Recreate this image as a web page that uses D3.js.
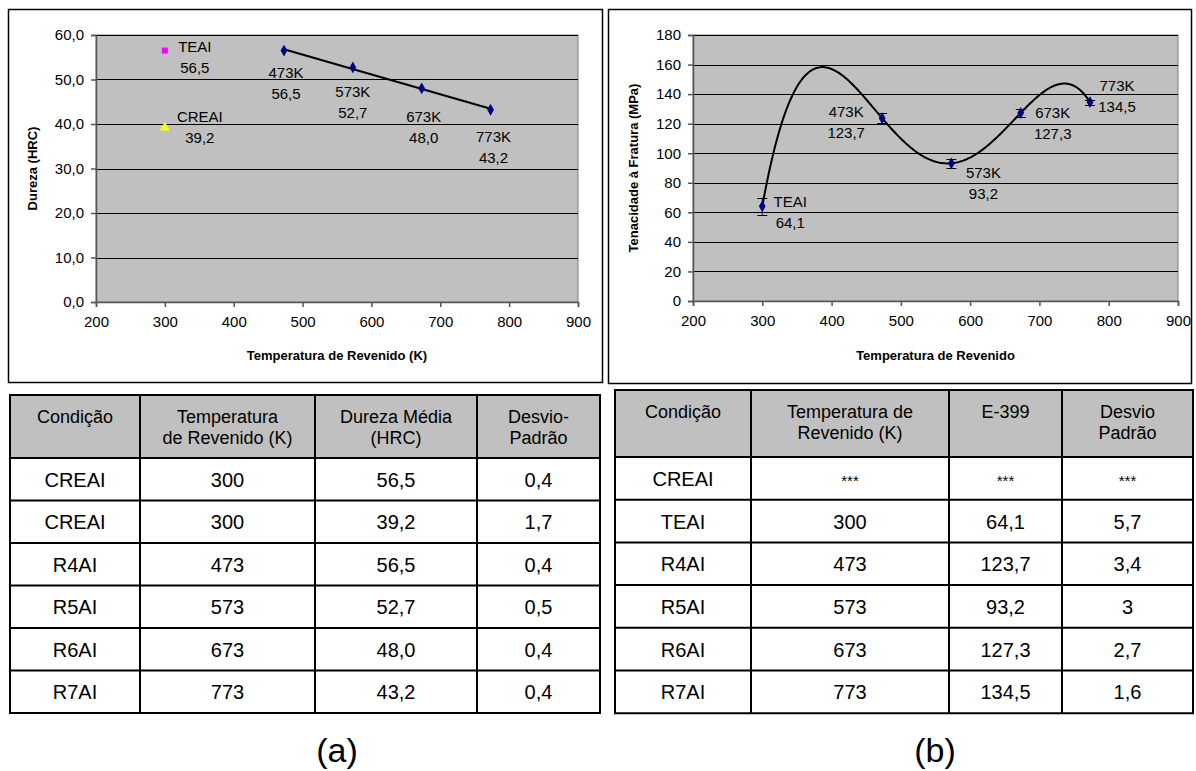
<!DOCTYPE html>
<html>
<head>
<meta charset="utf-8">
<script src="https://cdn.jsdelivr.net/npm/d3@7"></script>
<style>
  body { margin: 0; background: #fff; }
  svg text { font-family: "Liberation Sans", Arial, sans-serif; fill: #000; }
</style>
</head>
<body>
<svg id="fig" width="1196" height="771"></svg>
<script>
// ---- chart (a): dureza x temperatura
const hardRefNames = ['TEAI', 'CREAI']
const hardRefTemp = [300, 300]
const hardRefVal = [56.5, 39.2]
const hardNames = ['473K', '573K', '673K', '773K']
const hardTemp = [473, 573, 673, 773]
const hardVal = [56.5, 52.7, 48.0, 43.2]
const hardTicks = [0, 10, 20, 30, 40, 50, 60]

// ---- chart (b): tenacidade x temperatura
const toughNames = ['TEAI', '473K', '573K', '673K', '773K']
const toughTemp = [300, 473, 573, 673, 773]
const toughVal = [64.1, 123.7, 93.2, 127.3, 134.5]
const toughSd = [5.7, 3.4, 3, 2.7, 1.6]
const toughTicks = [0, 20, 40, 60, 80, 100, 120, 140, 160, 180]

const tempTicks = [200, 300, 400, 500, 600, 700, 800, 900]

// ---- tables
const headA = [['Condição'], ['Temperatura', 'de Revenido (K)'], ['Dureza Média', '(HRC)'], ['Desvio-', 'Padrão']]
const condA = ['CREAI', 'CREAI', 'R4AI', 'R5AI', 'R6AI', 'R7AI']
const tempA = [300, 300, 473, 573, 673, 773]
const durezaA = [56.5, 39.2, 56.5, 52.7, 48.0, 43.2]
const desvioA = [0.4, 1.7, 0.4, 0.5, 0.4, 0.4]

const headB = [['Condição'], ['Temperatura de', 'Revenido (K)'], ['E-399'], ['Desvio', 'Padrão']]
const condB = ['CREAI', 'TEAI', 'R4AI', 'R5AI', 'R6AI', 'R7AI']
const tempB = ['***', 300, 473, 573, 673, 773]
const e399B = ['***', 64.1, 123.7, 93.2, 127.3, 134.5]
const desvioB = ['***', 5.7, 3.4, 3, 2.7, 1.6]

const br = d3.formatLocale({ decimal: ',', thousands: '.', grouping: [3], currency: ['R$', ''] })
const f1 = br.format('.1f')
const fAuto = v => typeof v === 'number' ? String(v).replace('.', ',') : v

const svg = d3.select('#fig')
const NAVY = '#000080'

// frame + plot area + grid + axes for one chart
const panel = (o) => {
    svg.append('rect')
        .attr('x', o.frame[0] + 0.5).attr('y', o.frame[1] + 0.5)
        .attr('width', o.frame[2]).attr('height', o.frame[3])
        .attr('fill', '#fff').attr('stroke', '#000').attr('stroke-width', 1.5)

    let x = d3.scaleLinear().domain([200, 900]).range([o.left, o.right])
    let y = d3.scaleLinear().domain([0, o.ymax]).range([o.bottom, o.top])
    let g = svg.append('g')

    g.append('rect')
        .attr('x', o.left).attr('y', o.top)
        .attr('width', o.right - o.left).attr('height', o.bottom - o.top)
        .attr('fill', '#c0c0c0').attr('stroke', '#808080')

    g.selectAll('line.grid')
        .data(o.ticks.filter(t => t > 0))
        .join('line')
        .attr('class', 'grid')
        .attr('x1', o.left).attr('x2', o.right)
        .attr('y1', d => Math.round(y(d)) + 0.5).attr('y2', d => Math.round(y(d)) + 0.5)
        .attr('stroke', '#000')

    let ya = g.append('g')
        .attr('transform', `translate(${o.left},0)`)
        .call(d3.axisLeft(y).tickValues(o.ticks).tickSize(5).tickPadding(7).tickFormat(o.fmt))
    let xa = g.append('g')
        .attr('transform', `translate(0,${o.bottom})`)
        .call(d3.axisBottom(x).tickValues(tempTicks).tickSize(5).tickPadding(9).tickFormat(d3.format('d')))
    for (let a of [ya, xa]) {
        a.selectAll('path, line').attr('stroke', '#555').attr('stroke-width', 1.5)
        a.selectAll('text').attr('font-size', 15).attr('font-family', '"Liberation Sans", Arial, sans-serif')
    }

    g.append('text')
        .attr('transform', `translate(${o.ytitleX},${(o.top + o.bottom) / 2}) rotate(-90)`)
        .attr('text-anchor', 'middle').attr('dy', '0.35em')
        .attr('font-size', 13).attr('font-weight', 'bold')
        .text(o.ytitle)
    g.append('text')
        .attr('x', (o.left + o.right) / 2).attr('y', 355)
        .attr('text-anchor', 'middle').attr('dy', '0.35em')
        .attr('font-size', 13).attr('font-weight', 'bold')
        .text(o.xtitle)

    return { x, y, g }
}

// two-line data label, offset from its marker
const label = (g, px, py, off, l1, l2) => {
    let t = g.append('text')
        .attr('text-anchor', 'middle').attr('font-size', 15)
    t.append('tspan').attr('x', px + off[0]).attr('y', py + off[1]).attr('dy', '0.35em').text(l1)
    t.append('tspan').attr('x', px + off[0]).attr('y', py + off[1] + 21).attr('dy', '0.35em').text(l2)
}

// ---------- (a)
{
    let { x, y, g } = panel({
        frame: [8, 9, 594, 373], left: 96, right: 578, top: 35, bottom: 302,
        ymax: 60, ticks: hardTicks, fmt: f1, ytitleX: 32,
        ytitle: 'Dureza (HRC)', xtitle: 'Temperatura de Revenido (K)'
    })

    // linear trend through the tempered samples
    let mx = d3.mean(hardTemp), my = d3.mean(hardVal)
    let slope = d3.sum(hardTemp, (t, i) => (t - mx) * (hardVal[i] - my)) / d3.sum(hardTemp, t => (t - mx) ** 2)
    let trend = t => my + slope * (t - mx)
    let ends = d3.extent(hardTemp)
    g.append('path')
        .attr('d', d3.line()(ends.map(t => [x(t), y(trend(t))])))
        .attr('stroke', '#000').attr('stroke-width', 2).attr('fill', 'none')

    g.selectAll('path.pt')
        .data(hardTemp)
        .join('path')
        .attr('transform', (d, i) => `translate(${x(d)},${y(hardVal[i])})`)
        .attr('d', d3.symbol(d3.symbolDiamond, 40))
        .attr('fill', NAVY)

    let refShapes = [[d3.symbolSquare, 36, '#ff00ff'], [d3.symbolTriangle, 45, '#ffff00']]
    hardRefTemp.forEach((t, i) => {
        g.append('path')
            .attr('transform', `translate(${x(t)},${y(hardRefVal[i])})`)
            .attr('d', d3.symbol(refShapes[i][0], refShapes[i][1]))
            .attr('fill', refShapes[i][2])
    })

    let refOff = [[30, -4], [35, -11]]
    hardRefTemp.forEach((t, i) => label(g, x(t), y(hardRefVal[i]), refOff[i], hardRefNames[i], f1(hardRefVal[i])))
    let ptOff = [[2, 22], [0, 24], [2, 28], [3, 27]]
    hardTemp.forEach((t, i) => label(g, x(t), y(hardVal[i]), ptOff[i], hardNames[i], f1(hardVal[i])))
}

// ---------- (b)
{
    let { x, y, g } = panel({
        frame: [608, 9, 583, 374], left: 693, right: 1178, top: 35, bottom: 301,
        ymax: 180, ticks: toughTicks, fmt: d3.format('d'), ytitleX: 633,
        ytitle: 'Tenacidade à Fratura (MPa)', xtitle: 'Temperatura de Revenido'
    })

    // 4th order polynomial trend (exact through the 5 points)
    let poly = t => d3.sum(toughTemp, (xi, i) => {
        let w = toughVal[i]
        toughTemp.forEach((xj, j) => { if (j !== i) w *= (t - xj) / (xi - xj) })
        return w
    })
    let [t0, t1] = d3.extent(toughTemp)
    let ts = d3.range(t0, t1, 2).concat([t1])
    g.append('path')
        .attr('d', d3.line().x(t => x(t)).y(t => y(poly(t))).curve(d3.curveLinear)(ts))
        .attr('stroke', '#000').attr('stroke-width', 2).attr('fill', 'none')

    // error bars
    let eb = g.selectAll('g.err').data(toughTemp).join('g').attr('class', 'err')
    eb.append('line')
        .attr('x1', d => x(d)).attr('x2', d => x(d))
        .attr('y1', (d, i) => y(toughVal[i] - toughSd[i])).attr('y2', (d, i) => y(toughVal[i] + toughSd[i]))
        .attr('stroke', '#000')
    for (let s of [-1, 1]) {
        eb.append('line')
            .attr('x1', d => x(d) - 5).attr('x2', d => x(d) + 5)
            .attr('y1', (d, i) => Math.round(y(toughVal[i] + s * toughSd[i])) + 0.5)
            .attr('y2', (d, i) => Math.round(y(toughVal[i] + s * toughSd[i])) + 0.5)
            .attr('stroke', '#000')
    }

    g.selectAll('path.pt')
        .data(toughTemp)
        .join('path')
        .attr('transform', (d, i) => `translate(${x(d)},${y(toughVal[i])})`)
        .attr('d', d3.symbol(d3.symbolDiamond, 40))
        .attr('fill', NAVY)

    let off = [[28, -5], [-36, -6], [32, 9], [32, 0], [27, -16]]
    toughTemp.forEach((t, i) => label(g, x(t), y(toughVal[i]), off[i], toughNames[i], f1(toughVal[i])))
}

// ---------- tables
const table = (o) => {
    let g = svg.append('g')
    let cols = o.cols
    let nRows = o.rows[0].length
    let rowY = i => o.top + o.headH + i * o.rowH
    let bottom = rowY(nRows)

    g.append('rect')
        .attr('x', cols[0]).attr('y', o.top)
        .attr('width', cols[cols.length - 1] - cols[0]).attr('height', o.headH)
        .attr('fill', '#c0c0c0')

    // header text
    o.head.forEach((lines, c) => {
        let cx = (cols[c] + cols[c + 1]) / 2
        lines.forEach((s, k) => {
            g.append('text')
                .attr('x', cx).attr('y', o.top + o.headY + k * o.headLine)
                .attr('text-anchor', 'middle').attr('dy', '0.35em')
                .attr('font-size', 18).attr('fill', '#222')
                .text(s)
        })
    })

    // body
    o.rows.forEach((col, c) => {
        let cx = (cols[c] + cols[c + 1]) / 2
        g.selectAll(null)
            .data(col)
            .join('text')
            .attr('x', cx)
            .attr('y', (d, i) => rowY(i) + o.rowH / 2 + 7.5)
            .attr('text-anchor', 'middle')
            .attr('font-size', d => d === '***' ? 15 : 20)
            .text(d => o.fmt[c](d))
    })

    // grid lines
    let hl = [o.top, o.top + o.headH].concat(d3.range(1, nRows + 1).map(rowY))
    g.selectAll('line.h').data(hl).join('line')
        .attr('x1', cols[0] - 1).attr('x2', cols[cols.length - 1] + 1)
        .attr('y1', d => d).attr('y2', d => d)
        .attr('stroke', '#000').attr('stroke-width', 2)
    g.selectAll('line.v').data(cols).join('line')
        .attr('x1', d => d).attr('x2', d => d)
        .attr('y1', o.top).attr('y2', bottom)
        .attr('stroke', '#000').attr('stroke-width', 2)
}

table({
    cols: [10, 140, 315, 477, 600], top: 395, headH: 63, rowH: 42.5, headY: 22, headLine: 21,
    head: headA, rows: [condA, tempA, durezaA, desvioA],
    fmt: [d => d, d => d, f1, f1]
})
table({
    cols: [615, 751, 949, 1062, 1193], top: 390, headH: 67, rowH: 42.7, headY: 22, headLine: 21,
    head: headB, rows: [condB, tempB, e399B, desvioB],
    fmt: [d => d, fAuto, d => typeof d === 'number' ? f1(d) : d, fAuto]
})

// panel captions
svg.append('text').attr('x', 337).attr('y', 762).attr('text-anchor', 'middle').attr('font-size', 34).text('(a)')
svg.append('text').attr('x', 935).attr('y', 762).attr('text-anchor', 'middle').attr('font-size', 34).text('(b)')
</script>
</body>
</html>
